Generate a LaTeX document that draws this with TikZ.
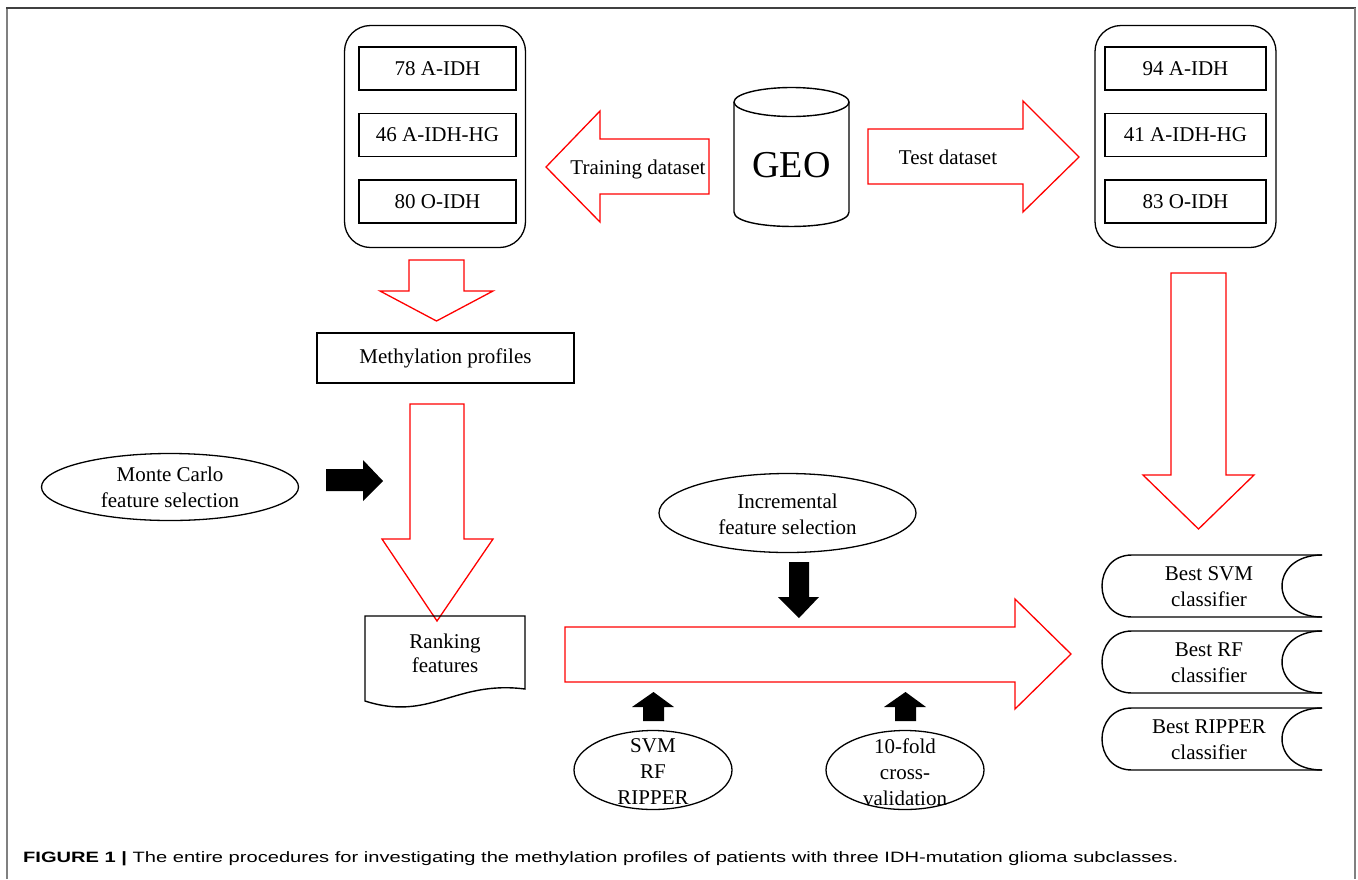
\documentclass[tikz,border=0pt]{standalone}
\usepackage{fontspec}
\usepackage{graphicx}
\setmainfont{Liberation Serif}
\newfontfamily\capfont{Liberation Sans}
\usetikzlibrary{shapes.geometric}
\begin{document}
\begin{tikzpicture}[x=1pt,y=-1pt,
  blk/.style={draw=black, line width=1.4pt},
  redarr/.style={draw=red, line width=1.3pt, line join=miter},
  blackarr/.style={fill=black, draw=none},
  txt/.style={font=\fontsize{21}{26}\selectfont, align=center, inner sep=0},
  box/.style={draw, line width=1.6pt, minimum width=157, minimum height=43, inner sep=0, font=\fontsize{21}{26}\selectfont},
  container/.style={draw, line width=1.3pt, rounded corners=26, minimum width=181, minimum height=222, inner sep=0},
  oval/.style={draw, ellipse, line width=1.3pt, inner sep=0},
]
\useasboundingbox (0,0) rectangle (1358,879);
\fill[white] (0,0) rectangle (1358,879);
% frame
\draw[black!50, line width=2pt] (7,879) -- (7,8);
\draw[black!75, line width=2pt] (6,8) -- (1356,8);
\draw[black!50, line width=2pt] (1355,8) -- (1355,879);

% training container
\node[container] (train) at (435,136.5) {};
\node[box] (tr1) at (437.5,68.5) {78 A-IDH};
\node[box] (tr2) at (437.5,135) {46 A-IDH-HG};
\node[box] (tr3) at (437.5,201.5) {80 O-IDH};

% test container
\node[container] (test) at (1185.5,136.5) {};
\node[box, minimum width=161] (te1) at (1185.5,68.5) {94 A-IDH};
\node[box, minimum width=161] (te2) at (1185.5,135) {41 A-IDH-HG};
\node[box, minimum width=161] (te3) at (1185.5,201.5) {83 O-IDH};

% GEO cylinder
\coordinate (geotop) at (791.5,102);
\draw[blk] (734,102) -- (734,212) .. controls (734,231.3) and (849,231.3) .. (849,212) -- (849,102);
\draw[blk] (geotop) ellipse [x radius=57.5, y radius=14.5];
\node[font=\fontsize{38}{40}\selectfont, inner sep=0, anchor=base] (geo) at (791.5,177) {GEO};

% training arrow (left)
\draw[redarr] (546,167) -- (600,111) -- (600,139) -- (709,139) -- (709,194) -- (600,194) -- (600,222) -- cycle;
\node[txt, anchor=base] (trlab) at (638,174) {Training dataset};

% test arrow (right)
\draw[redarr] (868,129) -- (1023,129) -- (1023,101) -- (1079,157) -- (1023,212) -- (1023,184) -- (868,184) -- cycle;
\node[txt, anchor=base] (telab) at (948,164) {Test dataset};

% small down arrow
\draw[redarr] (409,260) -- (464,260) -- (464,291) -- (493,291) -- (436.5,321) -- (380,291) -- (409,291) -- cycle;

% methylation profiles
\node[draw, line width=1.6pt, minimum width=257, minimum height=50, inner sep=0, font=\fontsize{21}{26}\selectfont] (meth) at (445.5,358) {Methylation profiles};

% big down arrow
\draw[redarr] (410,404) -- (464,404) -- (464,539) -- (493,539) -- (437,621) -- (382,539) -- (410,539) -- cycle;

% right long down arrow
\draw[redarr] (1171,273) -- (1226,273) -- (1226,475) -- (1254,475) -- (1198.5,529) -- (1143,475) -- (1171,475) -- cycle;

% big right arrow
\draw[redarr] (565,627) -- (1015,627) -- (1015,599) -- (1071,654) -- (1015,709) -- (1015,682) -- (565,682) -- cycle;

% Monte Carlo
\node[oval, minimum width=257, minimum height=67] (mc) at (170,487) {};
\node[txt] (mclab) at (mc.center) {Monte Carlo\\feature selection};
\draw[blackarr] (326,469) -- (363,469) -- (363,460) -- (383,481) -- (363,501) -- (363,491) -- (326,491) -- cycle;

% Incremental
\node[oval, minimum width=257, minimum height=79] (ifs) at (787.5,513) {};
\node[txt] (ifslab) at (787.5,514) {Incremental\\feature selection};
\draw[blackarr] (789,562) -- (809,562) -- (809,597) -- (819,597) -- (799,618) -- (778,597) -- (789,597) -- cycle;

% Ranking features (document)
\draw[blk] (365,616) -- (525,616) -- (525,689) .. controls (455,680) and (430,722) .. (365,701) -- cycle;
\node[txt, font=\fontsize{21}{24}\selectfont] (rank) at (445,653) {Ranking\\features};

% classifiers
\node[oval, minimum width=158, minimum height=79] (svm) at (653,770) {};
\node[txt] (svmlab) at (653,772) {SVM\\RF\\RIPPER};
\draw[blackarr] (643,721) -- (664,721) -- (664,707) -- (674,707) -- (653.5,692) -- (632,707) -- (643,707) -- cycle;

\node[oval, minimum width=158, minimum height=79] (cv) at (905,770) {};
\node[txt] (cvlab) at (905,772) {10-fold\\cross-\\validation};
\draw[blackarr] (895,721) -- (916,721) -- (916,707) -- (926,707) -- (905.5,692) -- (884,707) -- (895,707) -- cycle;

% best classifiers (stored data shapes)
\foreach \t/\n/\lab in {555/b1/{Best SVM\\classifier}, 631/b2/{Best RF\\classifier}, 708/b3/{Best RIPPER\\classifier}} {
  \draw[blk] (1322,\t) -- (1132,\t) .. controls (1092,\t) and (1092,\t+62) .. (1132,\t+62) -- (1322,\t+62);
  \draw[blk] (1322,\t) .. controls (1268.7,\t) and (1268.7,\t+62) .. (1322,\t+62);
  \node[txt] (\n) at (1209,\t+32) {\lab};
}

% caption
\node[anchor=base west, inner sep=0] (cap) at (23,862) {\capfont\fontsize{15}{18}\selectfont\scalebox{1.34}[1]{\textbf{FIGURE 1 |} The entire procedures for investigating the methylation profiles of patients with three IDH-mutation glioma subclasses.}};
\end{tikzpicture}
\end{document}
